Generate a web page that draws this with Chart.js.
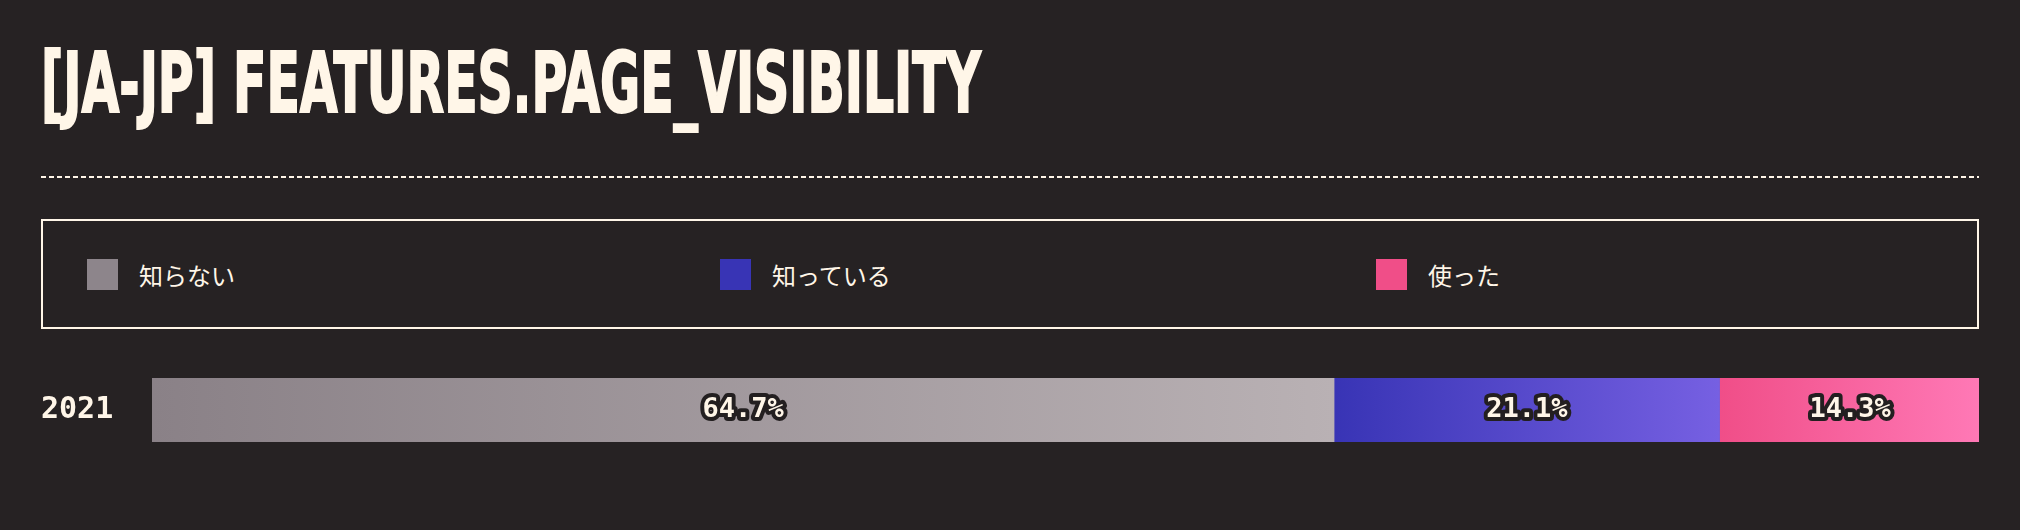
<!DOCTYPE html>
<html>
<head>
<meta charset="utf-8">
<script src="https://cdn.jsdelivr.net/npm/chart.js@4"></script>
<style>
  html, body { margin: 0; padding: 0; }
  body {
    width: 2020px; height: 530px; overflow: hidden;
    background: #262223; color: #fff6e8; position: relative;
  }
  #title {
    position: absolute; left: 41px; top: 42px;
    font-family: "DejaVu Sans Condensed", "DejaVu Sans", sans-serif;
    font-weight: bold; font-size: 83px; line-height: 83px;
    white-space: nowrap; transform-origin: 0 0;
    -webkit-text-stroke: 2px #fff6e8;
  }
  #rule {
    position: absolute; left: 41px; top: 176px; width: 1938px; height: 2px;
    background: repeating-linear-gradient(to right, #fff6e8 0 5px, transparent 5px 8px);
  }
  #legend {
    position: absolute; left: 41px; top: 219px; width: 1938px; height: 110px;
    border: 2px solid #fff6e8; display: flex; align-items: center;
    padding-left: 44px; box-sizing: border-box;
  }
  #legend .item { flex: 1 1 auto; display: flex; align-items: center; }
  #legend .item:last-child { margin-right: -8px; }
  #legend .sw { width: 31px; height: 31px; margin-right: 21px; }
  #legend .lbl { font-family: "Noto Sans CJK JP", sans-serif; font-size: 24px; }
  #chartBox { position: absolute; left: 0; top: 360px; width: 2020px; height: 100px; }
</style>
</head>
<body>
<div id="title">[JA-JP] FEATURES.PAGE_VISIBILITY</div>
<div id="rule"></div>
<div id="legend"></div>
<div id="chartBox"><canvas id="chart"></canvas></div>
<script>
// data
const years = ['2021'];
const seriesNames = ['知らない', '知っている', '使った'];
const unaware = [64.7];
const aware = [21.1];
const used = [14.3];
const legendColors = ['#8d858b', '#3834b5', '#f04e88'];
const gradientStops = [['#8a8187', '#b9b1b4'], ['#3834b5', '#7660e2'], ['#f04e88', '#ff79b6']];

// squeeze title to the width it has in the reference
const title = document.getElementById('title');
const tw = title.getBoundingClientRect().width;
title.style.transform = 'scaleX(' + (940 / tw) + ')';

// legend
const legend = document.getElementById('legend');
seriesNames.forEach((name, i) => {
    const item = document.createElement('div');
    item.className = 'item';
    item.innerHTML = '<div class="sw" style="background:' + legendColors[i] + '"></div><span class="lbl">' + name + '</span>';
    legend.appendChild(item);
});

const allSeries = [unaware, aware, used];

function segmentGradient(ctx, i) {
    const chart = ctx.chart;
    const x = chart.scales.x;
    if (!chart.chartArea || !x) return gradientStops[i][0];
    let start = 0;
    for (let k = 0; k < i; k++) start += allSeries[k][ctx.dataIndex || 0];
    const end = start + allSeries[i][ctx.dataIndex || 0];
    const g = chart.ctx.createLinearGradient(x.getPixelForValue(start), 0, x.getPixelForValue(end), 0);
    g.addColorStop(0, gradientStops[i][0]);
    g.addColorStop(1, gradientStops[i][1]);
    return g;
}

const valueLabels = {
    id: 'valueLabels',
    afterDatasetsDraw(chart) {
        const c = chart.ctx;
        c.save();
        c.font = 'bold 27px "DejaVu Sans Mono", monospace';
        c.textAlign = 'center';
        c.textBaseline = 'middle';
        c.lineJoin = 'round';
        chart.data.datasets.forEach((ds, i) => {
            chart.getDatasetMeta(i).data.forEach((bar, j) => {
                const txt = ds.data[j].toFixed(1) + '%';
                const cx = (bar.x + bar.base) / 2;
                c.lineWidth = 8;
                c.strokeStyle = '#231f20';
                c.strokeText(txt, cx, bar.y);
                c.fillStyle = '#fff6e8';
                c.fillText(txt, cx, bar.y);
            });
        });
        c.restore();
    }
};

new Chart(document.getElementById('chart'), {
    type: 'bar',
    data: {
        labels: years,
        datasets: allSeries.map((vals, i) => ({
            label: seriesNames[i],
            data: vals,
            backgroundColor: ctx => segmentGradient(ctx, i),
            borderWidth: 0,
            barThickness: 64
        }))
    },
    options: {
        indexAxis: 'y',
        responsive: true,
        maintainAspectRatio: false,
        animation: false,
        layout: { padding: { left: 41, right: 41, top: 0, bottom: 0 } },
        plugins: { legend: { display: false }, tooltip: { enabled: false } },
        scales: {
            x: { stacked: true, min: 0, max: 100, display: false },
            y: {
                stacked: true,
                grid: { display: false },
                border: { display: false },
                afterFit(scale) { scale.width = 111; },
                ticks: {
                    crossAlign: 'far',
                    padding: 0,
                    color: '#fff6e8',
                    font: { family: '"DejaVu Sans Mono", monospace', weight: 'bold', size: 30 }
                }
            }
        }
    },
    plugins: [valueLabels]
});
</script>
</body>
</html>
